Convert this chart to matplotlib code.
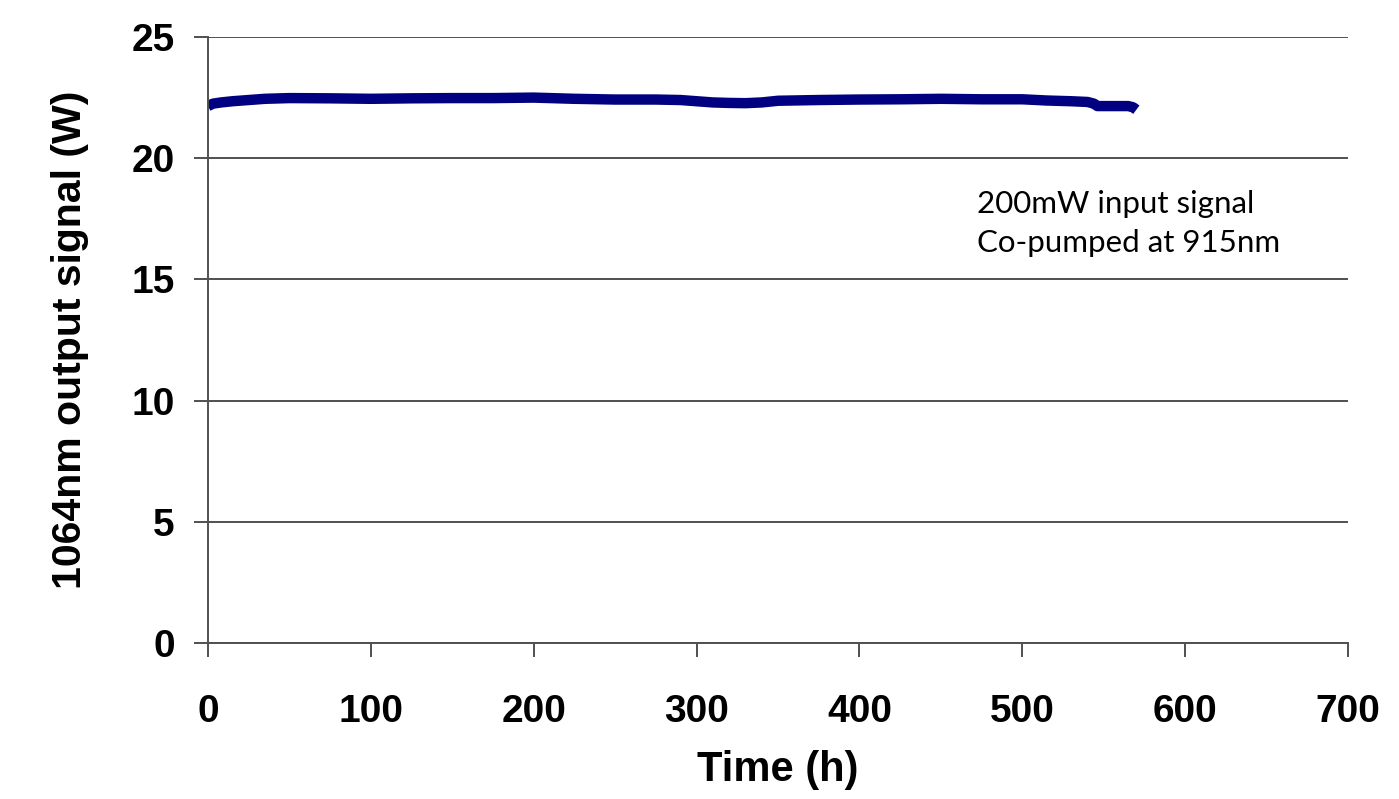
"""Long-term stability of the 1064nm amplifier output (co-pumped at 915nm)."""
import matplotlib
matplotlib.use("Agg")
import matplotlib.pyplot as plt

time_h = [0, 3, 8, 15, 25, 35, 50, 75, 100, 125, 150, 175, 200, 225, 250,
          275, 290, 300, 310, 320, 330, 340, 350, 375, 400, 425, 450, 475,
          500, 515, 530, 540, 544, 546, 555, 565, 568, 570]
power_w = [22.15, 22.25, 22.3, 22.35, 22.4, 22.45, 22.48, 22.47, 22.45,
           22.47, 22.48, 22.48, 22.5, 22.45, 22.42, 22.42, 22.4, 22.35,
           22.3, 22.28, 22.27, 22.3, 22.37, 22.4, 22.42, 22.43, 22.45,
           22.43, 22.43, 22.38, 22.35, 22.32, 22.25, 22.15, 22.15, 22.15,
           22.1, 22.0]

x_ticks = [0, 100, 200, 300, 400, 500, 600, 700]
y_ticks = [0, 5, 10, 15, 20, 25]

AXIS_GREY = "#505050"
TRACE = "#000080"

plt.rcParams["font.family"] = ["Liberation Sans", "DejaVu Sans"]

fig = plt.figure(figsize=(13.99, 7.99), dpi=100)
ax = fig.add_axes([0.1487, 0.1952, 0.8149, 0.7585])

ax.plot(time_h, power_w, color=TRACE, lw=7.5, solid_capstyle="butt")

ax.set_xlim(0, 700)
ax.set_ylim(0, 25)
ax.set_xticks(x_ticks)
ax.set_yticks(y_ticks)
ax.yaxis.grid(True, color=AXIS_GREY, lw=1.4)
ax.set_axisbelow(True)
for side in ("top", "right"):
    ax.spines[side].set_visible(False)
for side in ("left", "bottom"):
    ax.spines[side].set_color(AXIS_GREY)
    ax.spines[side].set_linewidth(1.4)
ax.tick_params(axis="both", direction="out", length=10, width=1.4,
               color=AXIS_GREY, labelsize=28)
ax.tick_params(axis="x", pad=27)
ax.tick_params(axis="y", pad=14)
for lab in ax.get_xticklabels() + ax.get_yticklabels():
    lab.set_fontweight("bold")

ax.set_xlabel("Time (h)", fontsize=30, fontweight="bold")
ax.set_ylabel("1064nm output signal (W)", fontsize=29.5, fontweight="bold")
ax.xaxis.set_label_coords(0.5, -0.2096)
ax.xaxis.label.set_va("center")
ax.yaxis.set_label_coords(-0.121, 0.5)
ax.yaxis.label.set_va("center")

ax.text(472, 17.3, "200mW input signal\nCo-pumped at 915nm",
        fontsize=22.5, family=["Lato", "DejaVu Sans"],
        linespacing=1.45, va="center", ha="left")

fig.savefig("out.png", dpi=100)
